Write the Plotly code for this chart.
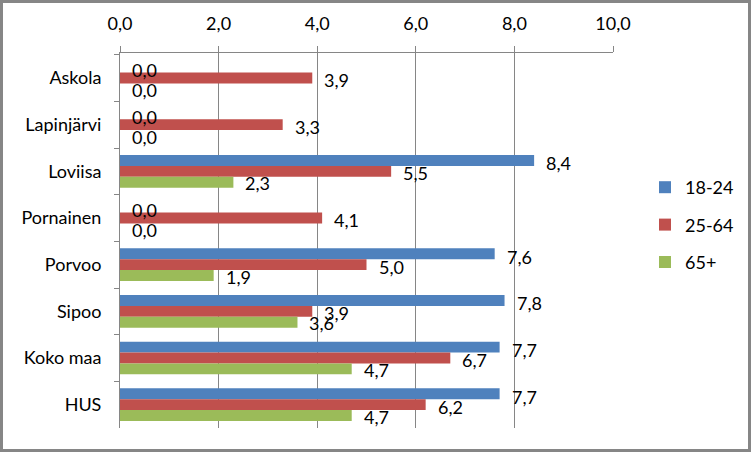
import plotly.graph_objects as go

categories = ["Askola", "Lapinjärvi", "Loviisa", "Pornainen", "Porvoo", "Sipoo", "Koko maa", "HUS"]
series_names = ["18-24", "25-64", "65+"]
v_18_24 = [0.0, 0.0, 8.4, 0.0, 7.6, 7.8, 7.7, 7.7]
v_25_64 = [3.9, 3.3, 5.5, 4.1, 5.0, 3.9, 6.7, 6.2]
v_65 = [0.0, 0.0, 2.3, 0.0, 1.9, 3.6, 4.7, 4.7]
x_ticks = [0, 2, 4, 6, 8, 10]

colors = ["#4F81BD", "#C0504D", "#9BBB59"]
series = [v_18_24, v_25_64, v_65]
FONT = "Lato, Carlito, Calibri, sans-serif"
FS = 18

W, H = 752, 452
ML, MR, MT, MB = 120, 139, 53, 24
PW = W - ML - MR
PH = H - MT - MB

fig = go.Figure()
for name, vals, col in zip(series_names, series, colors):
    fig.add_trace(go.Bar(
        y=categories, x=vals, name=name, orientation="h",
        marker=dict(color=col, line=dict(width=0)),
        legendgroup=name,
    ))

annotations = []
yshifts = [8, -2, -12]
for vals, ys in zip(series, yshifts):
    for c, v in zip(categories, vals):
        annotations.append(dict(
            x=v, y=c, xref="x", yref="y",
            text=f"{v:.1f}".replace(".", ","),
            showarrow=False, xanchor="left", yanchor="middle",
            xshift=10, yshift=ys,
            font=dict(family=FONT, size=FS, color="#000000"),
        ))

fig.update_layout(
    width=W, height=H,
    margin=dict(l=ML, r=MR, t=MT, b=MB, pad=0),
    paper_bgcolor="white", plot_bgcolor="white",
    barmode="group", bargap=0.3, bargroupgap=0,
    separators=", ",
    font=dict(family=FONT, size=FS, color="#000000"),
    annotations=annotations,
    legend=dict(
        x=(645 - ML) / PW, xanchor="left",
        y=1 - (169 - MT) / PH, yanchor="top",
        font=dict(family=FONT, size=FS),
        tracegroupgap=11, bgcolor="rgba(0,0,0,0)",
    ),
    xaxis=dict(
        side="top", range=[0, 10], tickvals=x_ticks,
        tickformat=".1f", showgrid=True, gridcolor="#868686", gridwidth=1,
        showline=True, linecolor="#868686", linewidth=1,
        ticks="outside", ticklen=6, tickcolor="#868686",
        zeroline=False, ticklabelstandoff=9,
        tickfont=dict(family=FONT, size=FS),
    ),
    yaxis=dict(
        autorange="reversed", showline=True, linecolor="#868686", linewidth=1,
        ticks="outside", ticklen=5, tickcolor="#868686", tickson="boundaries",
        showgrid=False, ticklabelstandoff=14,
        tickfont=dict(family=FONT, size=FS),
    ),
    shapes=[dict(
        type="rect", xref="paper", yref="paper",
        x0=-(ML - 1.5) / PW, x1=(W - ML - 2.5) / PW,
        y0=-(MB - 1.5) / PH, y1=1 + (MT - 1.5) / PH,
        line=dict(color="#868686", width=3), fillcolor="rgba(0,0,0,0)",
        layer="above",
    )],
)

fig.write_html(
    "out.html",
    config={"displayModeBar": False},
    post_script="document.body.style.margin='0';document.body.style.overflow='hidden';",
)
